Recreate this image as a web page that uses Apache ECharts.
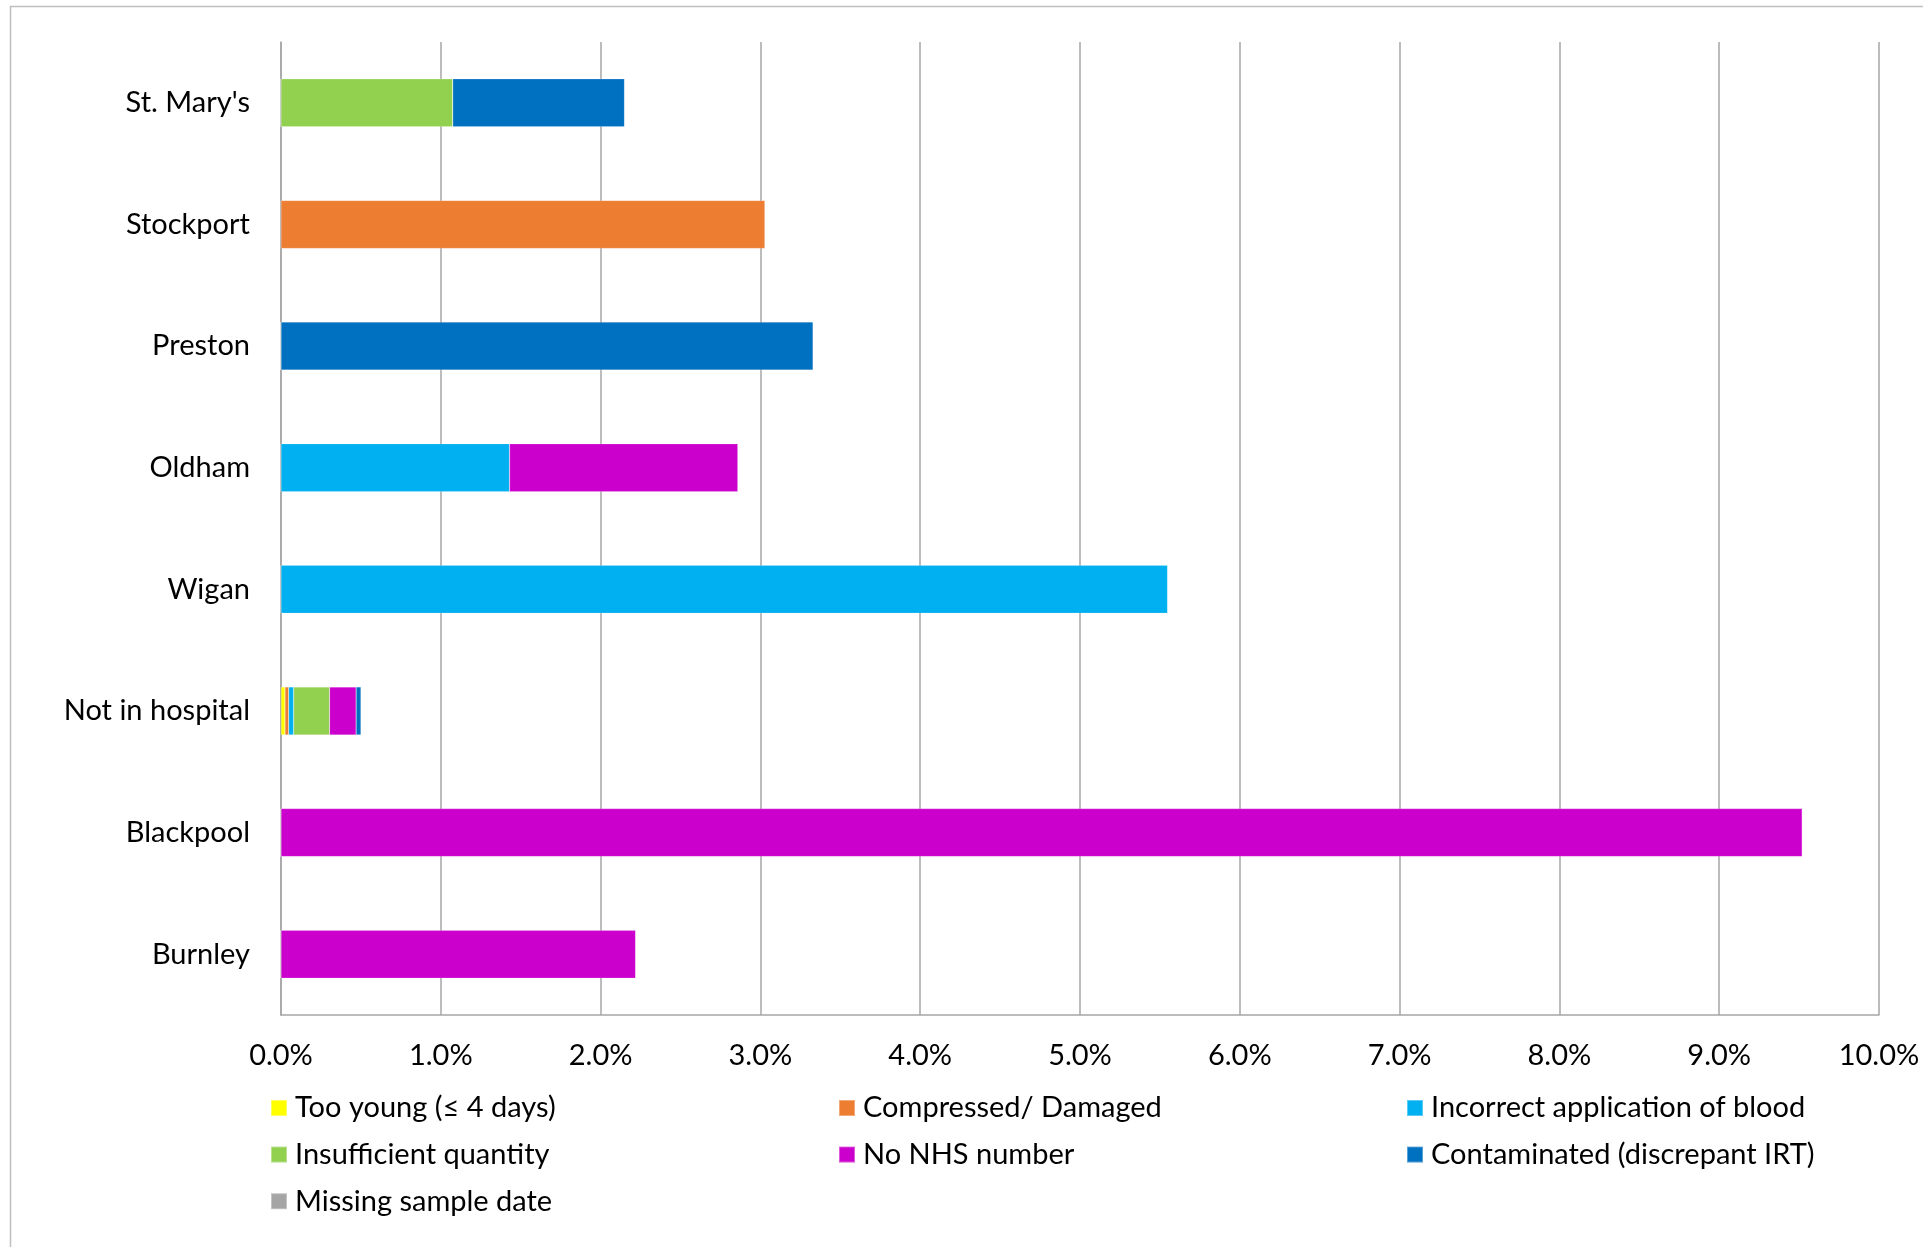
<!DOCTYPE html>
<html>
<head>
<meta charset="utf-8">
<script src="https://cdn.jsdelivr.net/npm/echarts@6/dist/echarts.min.js"></script>
<style>
html,body{margin:0;padding:0;background:#fff;}
#chart{width:1923px;height:1247px;}
</style>
</head>
<body>
<div id="chart"></div>
<script>
const categories = ["St. Mary's", "Stockport", "Preston", "Oldham", "Wigan", "Not in hospital", "Blackpool", "Burnley"];
const seriesNames = ["Too young (\u2264 4 days)", "Compressed/ Damaged", "Incorrect application of blood", "Insufficient quantity", "No NHS number", "Contaminated (discrepant IRT)", "Missing sample date"];
const seriesColors = ["#FFFF00", "#ED7D31", "#00B0F0", "#92D050", "#CC00CC", "#0070C0", "#A5A5A5"];
// values in %, same order as categories
const tooYoung      = [0, 0, 0, 0, 0, 0.025, 0, 0];
const compressed    = [0, 3.03, 0, 0, 0, 0.023, 0, 0];
const incorrect     = [0, 0, 0, 1.43, 5.55, 0.031, 0, 0];
const insufficient  = [1.075, 0, 0, 0, 0, 0.225, 0, 0];
const noNHS         = [0, 0, 0, 1.43, 0, 0.166, 9.52, 2.22];
const contaminated  = [1.075, 0, 3.33, 0, 0, 0.031, 0, 0];
const missingDate   = [0, 0, 0, 0, 0, 0, 0, 0];
const xTicks = [0, 1, 2, 3, 4, 5, 6, 7, 8, 9, 10];

const allData = [tooYoung, compressed, incorrect, insufficient, noNHS, contaminated, missingDate];
const FONT = 'Lato';
const chart = echarts.init(document.getElementById('chart'), null, {renderer: 'canvas'});

const series = seriesNames.map((n, i) => ({
  name: n,
  type: 'bar',
  stack: 'total',
  barWidth: 48,
  data: allData[i],
  itemStyle: {color: seriesColors[i], borderColor: 'rgba(255,255,255,0.35)', borderWidth: 0.5},
  emphasis: {disabled: true}
}));

function legendBlock(names, left) {
  return {
    orient: 'vertical',
    left: left,
    top: 1088,
    itemWidth: 16,
    itemHeight: 16,
    itemGap: 16.6,
    icon: 'rect',
    data: names,
    selectedMode: false,
    textStyle: {fontFamily: FONT, fontSize: 29, color: '#000', lineHeight: 30, padding: [0, 0, 0, 3]}
  };
}

chart.setOption({
  animation: false,
  backgroundColor: '#fff',
  color: seriesColors,
  graphic: [{
    type: 'rect',
    shape: {x: 10.5, y: 6.5, width: 1950, height: 1300},
    style: {fill: 'none', stroke: '#BFBFBF', lineWidth: 1.5},
    silent: true
  }],
  grid: {left: 281, right: 44, top: 42, bottom: 232, containLabel: false},
  legend: [
    legendBlock([seriesNames[0], seriesNames[3], seriesNames[6]], 265),
    legendBlock([seriesNames[1], seriesNames[4]], 833),
    legendBlock([seriesNames[2], seriesNames[5]], 1401)
  ],
  xAxis: {
    type: 'value',
    min: xTicks[0],
    max: xTicks[xTicks.length - 1],
    interval: 1,
    axisLine: {show: true, lineStyle: {color: '#A6A6A6', width: 1.5}},
    axisTick: {show: false},
    splitLine: {show: true, lineStyle: {color: '#A6A6A6', width: 1.5}},
    axisLabel: {
      fontFamily: FONT, fontSize: 29, color: '#000', margin: 26, lineHeight: 30,
      formatter: v => v.toFixed(1) + '%'
    }
  },
  yAxis: {
    type: 'category',
    inverse: true,
    data: categories,
    axisLine: {show: true, lineStyle: {color: '#A6A6A6', width: 1.5}},
    axisTick: {show: false},
    splitLine: {show: false},
    axisLabel: {fontFamily: FONT, fontSize: 29, color: '#000', margin: 31}
  },
  series: series
});
</script>
</body>
</html>
